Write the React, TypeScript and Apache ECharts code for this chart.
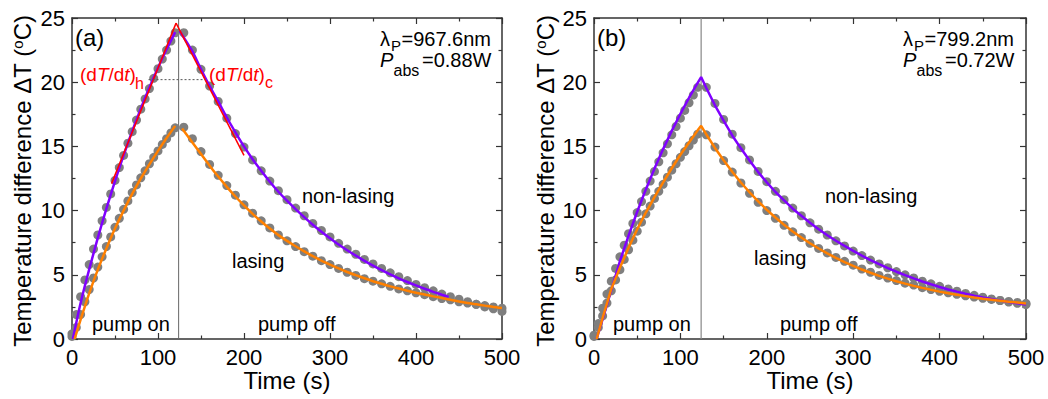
import React, { useEffect, useRef } from "react";
import * as echarts from "echarts";

const FONT = '"Liberation Sans", Arial, Helvetica, sans-serif';
const PURPLE = "#8000ff";
const ORANGE = "#ff8000";
const RED = "#ff0000";
const DOT = "#7f7f7f";

// sampling times of the measured points
const timeOn = [0, 5, 10, 15, 20, 25, 30, 35, 40, 45, 50, 55, 60, 65, 70, 75, 80, 85, 90, 95, 100, 105, 110, 115, 120];
const timeOff = [130, 140, 150, 160, 170, 180, 190, 200, 210, 220, 230, 240, 250, 260, 270, 280, 290, 300, 310, 320, 330, 340, 350, 360, 370, 380, 390, 400, 410, 420, 430, 440, 450, 460, 470, 480, 490, 500];

// ---- panel (a) measured points ----
const aNonLasingOn = [0.4, 1.9, 3.3, 4.6, 5.8, 7.0, 8.1, 9.2, 10.25, 11.3, 12.35, 13.35, 14.3, 15.25, 16.15, 17.05, 17.9, 18.7, 19.5, 20.3, 21.05, 21.8, 22.5, 23.2, 23.85];
const aNonLasingOff = [23.85, 22.5, 21.0, 19.7, 18.5, 17.2, 16.0, 14.95, 13.95, 13.1, 12.3, 11.55, 10.85, 10.2, 9.6, 9.0, 8.45, 7.95, 7.45, 7.0, 6.6, 6.2, 5.85, 5.5, 5.15, 4.85, 4.55, 4.25, 4.0, 3.75, 3.5, 3.3, 3.1, 2.9, 2.7, 2.5, 2.35, 2.15];
const aLasingOn = [0.2, 0.9, 1.9, 2.9, 3.85, 4.75, 5.6, 6.4, 7.2, 7.95, 8.7, 9.4, 10.1, 10.75, 11.4, 12.0, 12.55, 13.1, 13.65, 14.15, 14.65, 15.15, 15.6, 16.05, 16.45];
const aLasingOff = [16.5, 15.6, 14.6, 13.6, 12.75, 11.95, 11.2, 10.45, 9.8, 9.2, 8.65, 8.1, 7.65, 7.2, 6.8, 6.45, 6.1, 5.8, 5.5, 5.2, 4.95, 4.7, 4.5, 4.3, 4.1, 3.9, 3.75, 3.6, 3.45, 3.3, 3.15, 3.05, 2.9, 2.8, 2.7, 2.6, 2.5, 2.4];

// ---- panel (a) fitted curves ----
const aNonLasingFitOn = [[1, 0], [10, 2.8], [20, 5.42], [30, 7.87], [40, 10.16], [50, 12.3], [60, 14.31], [70, 16.18], [80, 17.94], [90, 19.58], [100, 21.12], [110, 22.56], [120, 23.9]];
const aNonLasingFitOff = [[125, 24.0], [140, 22.4], [150, 21.0], [160, 19.7], [170, 18.5], [180, 17.25], [190, 16.1], [200, 15.0], [210, 14.0], [220, 13.1], [230, 12.25], [240, 11.47], [250, 10.77], [260, 10.11], [270, 9.49], [280, 8.9], [290, 8.36], [300, 7.85], [310, 7.36], [320, 6.91], [330, 6.49], [340, 6.09], [350, 5.72], [360, 5.37], [370, 5.04], [380, 4.73], [390, 4.44], [400, 4.17], [410, 3.91], [420, 3.67], [430, 3.45], [438, 3.28]];
const aLasingFitOn = [[3, 0], [10, 1.5], [20, 3.55], [30, 5.4], [40, 7.05], [50, 8.6], [60, 10.0], [70, 11.3], [80, 12.5], [90, 13.6], [100, 14.65], [110, 15.65], [120, 16.6]];
const aLasingFitOff = [[128, 16.4], [140, 15.3], [150, 14.4], [160, 13.5], [170, 12.65], [180, 11.85], [190, 11.1], [200, 10.4], [210, 9.75], [220, 9.15], [230, 8.6], [240, 8.09], [250, 7.64], [260, 7.22], [270, 6.82], [280, 6.45], [290, 6.11], [300, 5.8], [310, 5.5], [320, 5.22], [330, 4.97], [340, 4.73], [350, 4.5], [360, 4.3], [370, 4.1], [380, 3.93], [390, 3.76], [400, 3.6], [410, 3.46], [420, 3.32], [430, 3.2], [440, 3.06], [450, 2.92], [460, 2.8], [470, 2.7], [480, 2.6], [490, 2.5], [500, 2.42]];
const aHeatTangent = [[46, 12.1], [121, 24.6]];
const aCoolTangent = [[121, 24.6], [200, 14.3]];
const aRefLevel = [[89, 20.2], [155, 20.2]];

// ---- panel (b) measured points ----
const bNonLasingOn = [0.3, 1.2, 2.4, 3.5, 4.5, 5.5, 6.4, 7.3, 8.2, 9.0, 9.85, 10.7, 11.5, 12.3, 13.05, 13.8, 14.5, 15.2, 15.9, 16.55, 17.2, 17.8, 18.4, 19.0, 19.6];
const bNonLasingOff = [19.6, 18.35, 17.1, 15.95, 14.9, 13.95, 13.05, 12.25, 11.5, 10.85, 10.2, 9.6, 9.05, 8.55, 8.1, 7.65, 7.25, 6.85, 6.5, 6.15, 5.85, 5.55, 5.25, 5.0, 4.75, 4.5, 4.3, 4.1, 3.9, 3.72, 3.55, 3.4, 3.25, 3.12, 3.0, 2.88, 2.78, 2.68];
const bLasingOn = [0.2, 0.9, 1.8, 2.8, 3.75, 4.6, 5.4, 6.2, 6.95, 7.7, 8.4, 9.1, 9.75, 10.35, 10.95, 11.5, 12.05, 12.6, 13.15, 13.65, 14.15, 14.6, 15.05, 15.5, 15.95];
const bLasingOff = [15.9, 14.95, 13.9, 13.0, 12.15, 11.35, 10.65, 10.0, 9.4, 8.85, 8.35, 7.9, 7.45, 7.05, 6.7, 6.35, 6.05, 5.75, 5.45, 5.2, 4.95, 4.75, 4.55, 4.35, 4.2, 4.0, 3.85, 3.72, 3.6, 3.48, 3.37, 3.27, 3.17, 3.08, 3.0, 2.92, 2.85, 2.78];

// ---- panel (b) fitted curves ----
const bNonLasingFit = [[3, 0], [10, 1.55], [20, 3.8], [30, 6.07], [40, 8.05], [50, 9.91], [60, 11.65], [70, 13.27], [80, 14.79], [90, 16.21], [100, 17.54], [110, 18.79], [120, 19.95], [124, 20.4], [130, 19.55], [140, 18.2], [150, 17.0], [160, 15.85], [170, 14.85], [180, 13.9], [190, 13.0], [200, 12.2], [210, 11.45], [220, 10.8], [230, 10.15], [240, 9.6], [250, 9.05], [260, 8.55], [270, 8.08], [280, 7.65], [290, 7.25], [300, 6.87], [310, 6.5], [320, 6.15], [330, 5.83], [340, 5.52], [350, 5.24], [360, 4.97], [370, 4.72], [380, 4.48], [390, 4.26], [400, 4.05], [410, 3.86], [420, 3.69], [430, 3.53], [440, 3.38], [450, 3.24], [460, 3.11], [470, 2.99], [480, 2.88], [490, 2.78], [500, 2.69]];
const bLasingFit = [[3, 0], [10, 1.65], [20, 3.9], [30, 5.55], [40, 7.1], [50, 8.55], [60, 9.85], [70, 11.05], [80, 12.2], [90, 13.3], [100, 14.35], [110, 15.3], [120, 16.25], [124, 16.6], [130, 15.93], [140, 14.88], [150, 13.92], [160, 13.02], [170, 12.19], [180, 11.43], [190, 10.72], [200, 10.06], [210, 9.46], [220, 8.9], [230, 8.38], [240, 7.9], [250, 7.46], [260, 7.05], [270, 6.67], [280, 6.32], [290, 5.99], [300, 5.69], [310, 5.41], [320, 5.16], [330, 4.92], [340, 4.7], [350, 4.5], [360, 4.31], [370, 4.14], [380, 3.98], [390, 3.83], [400, 3.69], [410, 3.56], [420, 3.45], [430, 3.34], [440, 3.24], [450, 3.14], [460, 3.06], [470, 2.98], [480, 2.9], [490, 2.84], [500, 2.77]];

const pumpOffLine = [[124, 0], [124, 25]];

const X_MIN = 0, X_MAX = 500, X_STEP = 100;
const Y_MIN = 0, Y_MAX = 25, Y_STEP = 5;

const zip = (t: number[], v: number[]) => t.map((x, i) => [x, v[i]]);

function axis(kind: "x" | "y", gridIndex: number, position: string, labels: boolean) {
  return {
    type: "value",
    gridIndex,
    position,
    min: kind === "x" ? X_MIN : Y_MIN,
    max: kind === "x" ? X_MAX : Y_MAX,
    interval: kind === "x" ? X_STEP : Y_STEP,
    axisLine: { show: true, onZero: false, lineStyle: { color: "#333", width: 1.5 } },
    axisTick: { show: true, inside: true, length: 6, lineStyle: { color: "#333", width: 1.2 } },
    minorTick: { show: true, splitNumber: 2, length: 3.5, lineStyle: { color: "#333", width: 1.2 } },
    splitLine: { show: false },
    minorSplitLine: { show: false },
    axisLabel: labels
      ? { show: true, fontSize: 22, color: "#000", fontFamily: FONT, margin: 7 }
      : { show: false },
  };
}

function dots(t: number[], v: number[], gi: number) {
  return {
    type: "scatter", xAxisIndex: gi, yAxisIndex: gi, data: zip(t, v),
    symbolSize: 9, itemStyle: { color: DOT, opacity: 1 }, z: 2, silent: true,
  };
}

function curve(data: number[][], color: string, gi: number, width = 2.5, extra: any = {}) {
  return {
    type: "line", xAxisIndex: gi, yAxisIndex: gi, data, symbol: "none", showSymbol: false,
    smooth: 0.25, lineStyle: { color, width }, z: 3, silent: true, ...extra,
  };
}

function text(x: number, y: number, s: string, size: number, extra: any = {}) {
  return {
    type: "text", x, y, z: 100, silent: true,
    style: {
      text: s, fontSize: size, fontFamily: FONT, fill: extra.fill || "#000",
      fontStyle: extra.italic ? "italic" : "normal",
      align: extra.align || "left", verticalAlign: "middle",
      rich: extra.rich,
    },
    rotation: extra.rotation || 0,
  };
}

const redRich = { i: { fontStyle: "italic", fontSize: 19, fontFamily: FONT, fill: RED } };
const yNameRich = { s: { fontSize: 15, fontFamily: FONT, fill: "#000", verticalAlign: "top", lineHeight: 15 } };

function panelTexts(ox: number, letter: string, lam: string, pabs: string, p: any) {
  return [
    text(ox + p.letterX, 37, letter, 24),
    text(ox + p.lamX, 39, "λ", 20),
    text(ox + p.lamX + 11, 45, "P", 15),
    text(ox + p.lamX + 21.5, 39, lam, 20),
    text(ox + p.lamX, 60, "P", 20, { italic: true }),
    text(ox + p.lamX + 13.5, 70, "abs", 16),
    text(ox + p.lamX + 42, 60, pabs, 20),
    text(ox + p.nonX, 196, "non-lasing", 20),
    text(ox + p.lasX, p.lasY, "lasing", 20),
    text(ox + p.onX, 324, "pump on", 20),
    text(ox + p.offX, 324, "pump off", 20),
    text(ox + p.yNameX, 181, "Temperature difference ΔT ({s|o}C)", 24, { rotation: Math.PI / 2, align: "center", rich: yNameRich }),
    text(ox + p.xNameX, 380, "Time (s)", 24, { align: "center" }),
  ];
}

export default function App() {
  const ref = useRef<HTMLDivElement>(null);
  useEffect(() => {
    document.body.style.margin = "0";
    const chart = echarts.init(ref.current!, null, { renderer: "svg" });
    const option: any = {
      animation: false,
      backgroundColor: "#fff",
      grid: [
        { left: 72, top: 18, width: 430, height: 321 },
        { left: 594, top: 18, width: 432, height: 321 },
      ],
      xAxis: [axis("x", 0, "bottom", true), axis("x", 1, "bottom", true), axis("x", 0, "top", false), axis("x", 1, "top", false)],
      yAxis: [axis("y", 0, "left", true), axis("y", 1, "left", true), axis("y", 0, "right", false), axis("y", 1, "right", false)],
      series: [
        curve(pumpOffLine, "#666", 0, 1, { smooth: false, z: 1 }),
        curve(pumpOffLine, "#888", 1, 1.2, { smooth: false, z: 1 }),
        dots(timeOn, aNonLasingOn, 0), dots(timeOff, aNonLasingOff, 0),
        dots(timeOn, aLasingOn, 0), dots(timeOff, aLasingOff, 0),
        dots(timeOn, bNonLasingOn, 1), dots(timeOff, bNonLasingOff, 1),
        dots(timeOn, bLasingOn, 1), dots(timeOff, bLasingOff, 1),
        curve(aNonLasingFitOn, PURPLE, 0), curve(aNonLasingFitOff, PURPLE, 0),
        curve(aLasingFitOn, ORANGE, 0), curve(aLasingFitOff, ORANGE, 0),
        curve(bNonLasingFit, PURPLE, 1, 2.5, { smooth: false }),
        curve(bLasingFit, ORANGE, 1, 2.5, { smooth: false }),
        curve(aHeatTangent, RED, 0, 1.5, { smooth: false, z: 4 }),
        curve(aCoolTangent, RED, 0, 1.5, { smooth: false, z: 4 }),
        curve(aRefLevel, "#555", 0, 1, { smooth: false, z: 4, lineStyle: { color: "#555", width: 1, type: [2, 2] } }),
      ],
      graphic: [
        ...panelTexts(0, "(a)", "=967.6nm", "=0.88W", { letterX: 75, lamX: 380, nonX: 302, lasX: 232, lasY: 261, onX: 92, offX: 258, yNameX: 22, xNameX: 287 }),
        ...panelTexts(522, "(b)", "=799.2nm", "=0.72W", { letterX: 75, lamX: 381, nonX: 303, lasX: 232, lasY: 258, onX: 91, offX: 258, yNameX: 23, xNameX: 288 }),
        text(80, 74, "(d{i|T}/d{i|t})", 19, { fill: RED, rich: redRich }),
        text(135, 83, "h", 16, { fill: RED }),
        text(209, 74, "(d{i|T}/d{i|t})", 19, { fill: RED, rich: redRich }),
        text(265, 82, "c", 16, { fill: RED }),
      ],
    };
    chart.setOption(option);
    return () => chart.dispose();
  }, []);
  return <div ref={ref} style={{ width: 1048, height: 399 }} />;
}
